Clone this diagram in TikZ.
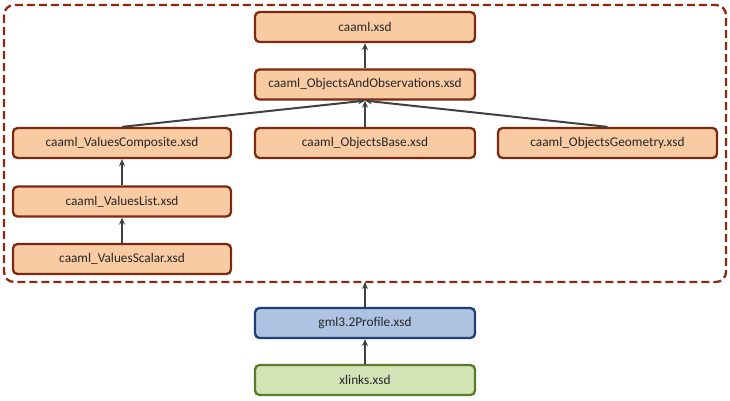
\documentclass[tikz,border=0pt]{standalone}
\usepackage{fontspec}
\setmainfont{Carlito}
\usetikzlibrary{arrows.meta}
\definecolor{orfill}{HTML}{F9CBA2}
\definecolor{ordraw}{HTML}{7B2A10}
\definecolor{blfill}{HTML}{AEC3E2}
\definecolor{bldraw}{HTML}{1F3F73}
\definecolor{grfill}{HTML}{D2E3B5}
\definecolor{grdraw}{HTML}{5B7A2A}
\definecolor{arr}{HTML}{404040}
\definecolor{dashcol}{HTML}{8B2A10}
\tikzset{
  box/.style={draw, rounded corners=4.5pt, line width=2.3pt, minimum width=220pt, minimum height=30pt, inner sep=0pt, font=\fontsize{13.3}{15}\selectfont, text=black!85},
  obox/.style={box, fill=orfill, draw=ordraw},
  bbox/.style={box, fill=blfill, draw=bldraw},
  gbox/.style={box, fill=grfill, draw=grdraw},
  conn/.style={draw=arr, line width=2pt, -{Stealth[length=7pt,width=6pt]}},
  group/.style={draw=dashcol, line width=2.3pt, dash pattern=on 8pt off 4pt, rounded corners=10pt},
}
\begin{document}
\begin{tikzpicture}[x=1pt,y=-1pt]
\useasboundingbox (0,0) rectangle (730,400);
\draw[group] (4,5) rectangle (726,282);
\coordinate (cb) at (365,282);
\node[obox] (caaml) at (365,27) {caaml.xsd};
\node[obox] (oao) at (365,84.5) {caaml\_ObjectsAndObservations.xsd};
\node[obox, minimum width=218pt] (vc) at (122,143) {caaml\_ValuesComposite.xsd};
\node[obox] (ob) at (365,143) {caaml\_ObjectsBase.xsd};
\node[obox, minimum width=219pt] (og) at (607.5,143) {caaml\_ObjectsGeometry.xsd};
\node[obox, minimum width=218pt] (vl) at (122,201.5) {caaml\_ValuesList.xsd};
\node[obox, minimum width=218pt] (vs) at (122,259) {caaml\_ValuesScalar.xsd};
\node[bbox] (gml) at (365,323) {gml3.2Profile.xsd};
\node[gbox] (xl) at (365,380) {xlinks.xsd};
\draw[conn] (oao) -- (caaml);
\draw[conn] (ob) -- (oao);
\draw[conn] (vc.north) -- (oao.south);
\draw[conn] (og.north) -- (oao.south);
\draw[conn] (vl) -- (vc);
\draw[conn] (vs) -- (vl);
\draw[conn] (gml.north) -- (cb);
\draw[conn] (xl) -- (gml);
\end{tikzpicture}
\end{document}
